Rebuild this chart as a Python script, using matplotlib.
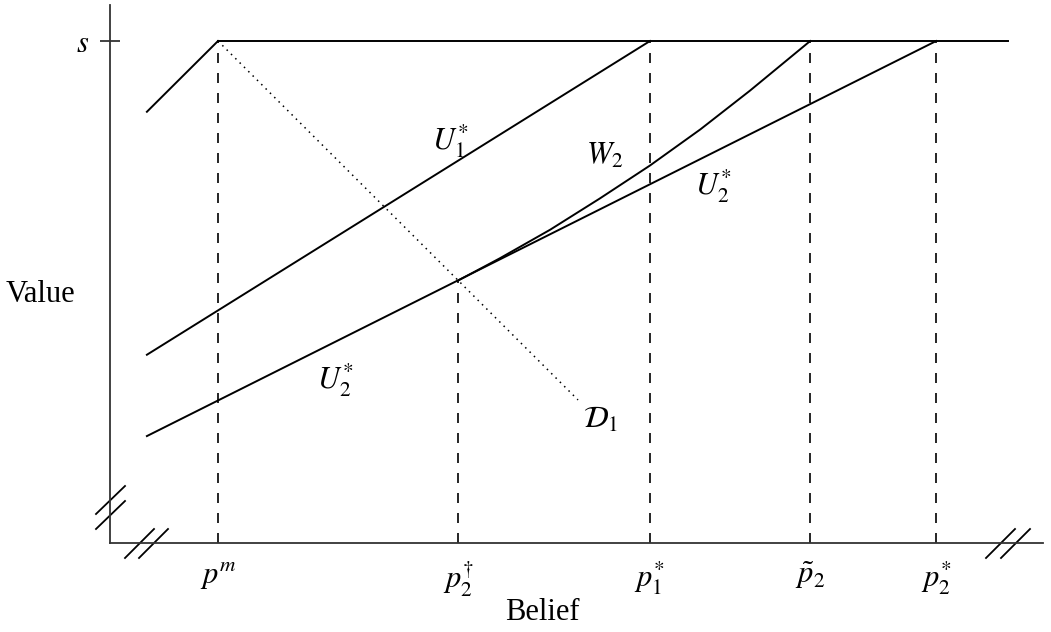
import numpy as np
import matplotlib
matplotlib.use("Agg")
import matplotlib.pyplot as plt

plt.rcParams['font.family'] = ['Liberation Serif', 'DejaVu Serif']
plt.rcParams['mathtext.fontset'] = 'stix'

# belief positions (axis runs 0 .. ~1.04)
x_left = 0.041
p_m = 0.12
p2_dag = 0.387
p1_star = 0.60
p2_tilde = 0.778
p2_star = 0.918
x_end = 0.998

# value levels (s = 1)
s = 1.0
first_start = 0.859     # start of the short segment rising to s at p^m
u1_left = 0.375         # U1* at left edge
u2_left = 0.213         # U2* at left edge
u2_dag = 0.522          # U2* at p2 dagger
d1_end_x = 0.52
d1_end_y = 0.285

# W2 (leaves U2* tangentially at p2 dagger)
w2_x = [0.387, 0.433, 0.489, 0.544, 0.600, 0.656, 0.711, 0.778]
w2_y = [0.523, 0.567, 0.624, 0.686, 0.752, 0.824, 0.901, 1.000]

tick_pos = [p_m, p2_dag, p1_star, p2_tilde, p2_star]
tick_labels = [r'$p^m$', r'$p_2^{\dagger}$', r'$p_1^{*}$', r'$\tilde{p}_2$', r'$p_2^{*}$']

fig = plt.figure(figsize=(10.51, 6.32), dpi=100)
ax = fig.add_axes([110 / 1051, 89 / 632, 933 / 1051, 538 / 632])
ax.set_xlim(0, 933 / 900)
ax.set_ylim(0, 538 / 502)

lc = 'black'
lw = 1.4
ax.plot([x_left, p_m], [first_start, s], color=lc, lw=lw)
ax.plot([p_m, x_end], [s, s], color=lc, lw=lw)
ax.plot([x_left, p1_star], [u1_left, s], color=lc, lw=lw)
ax.plot([x_left, p2_star], [u2_left, s], color=lc, lw=lw)
ax.plot(w2_x, w2_y, color=lc, lw=lw)
ax.plot([p_m, d1_end_x], [s, d1_end_y], color=lc, lw=1.1, ls=(0, (1, 3)))

# dashed drop lines
for xp, top in [(p_m, s), (p2_dag, u2_dag), (p1_star, s), (p2_tilde, s), (p2_star, s)]:
    ax.plot([xp, xp], [0, top], color=lc, lw=1.2, ls=(0, (6, 6)))

# curve labels
fs = 22
ax.text(0.378, 0.80, r'$U_1^{*}$', fontsize=fs, ha='center', va='center')
ax.text(0.550, 0.77, r'$W_2$', fontsize=fs, ha='center', va='center')
ax.text(0.670, 0.71, r'$U_2^{*}$', fontsize=fs, ha='center', va='center')
ax.text(0.250, 0.325, r'$U_2^{*}$', fontsize=fs, ha='center', va='center')
ax.text(0.545, 0.245, r'$\mathcal{D}_1$', fontsize=fs, ha='center', va='center')

# axes styling
for side in ['top', 'right']:
    ax.spines[side].set_visible(False)
for side in ['left', 'bottom']:
    ax.spines[side].set_color('#333333')
    ax.spines[side].set_linewidth(1.3)
ax.set_yticks([s])
ax.set_yticklabels([r'$s$'], fontsize=fs)
ax.tick_params(axis='y', direction='inout', length=14, width=1.3, color='#333333', pad=8)
ax.set_xticks(tick_pos)
ax.set_xticklabels(tick_labels, fontsize=fs)
ax.tick_params(axis='x', length=0, pad=12)
ax.set_xlabel('Belief', fontsize=22)
ax.xaxis.set_label_coords(432 / 933, -55 / 538)
ax.set_ylabel('Value', fontsize=22, rotation=0, ha='center', va='center')
ax.yaxis.set_label_coords(-70 / 933, 248 / 538)

# axis break marks (axes fraction, clipped off)
W, H = 933.0, 538.0
def slash(x0, y0, x1, y1):
    ax.plot([x0 / W, x1 / W], [y0 / H, y1 / H], color='black', lw=1.3,
            transform=ax.transAxes, clip_on=False)

for dy in [0, 15]:
    slash(-14, 29 - dy, 15, 57 - dy)
for dx in [15, 29]:
    slash(dx, -15, dx + 29, 14)
for dx in [876, 891]:
    slash(dx, -15, dx + 29, 14)

fig.savefig('out.png', dpi=100)
